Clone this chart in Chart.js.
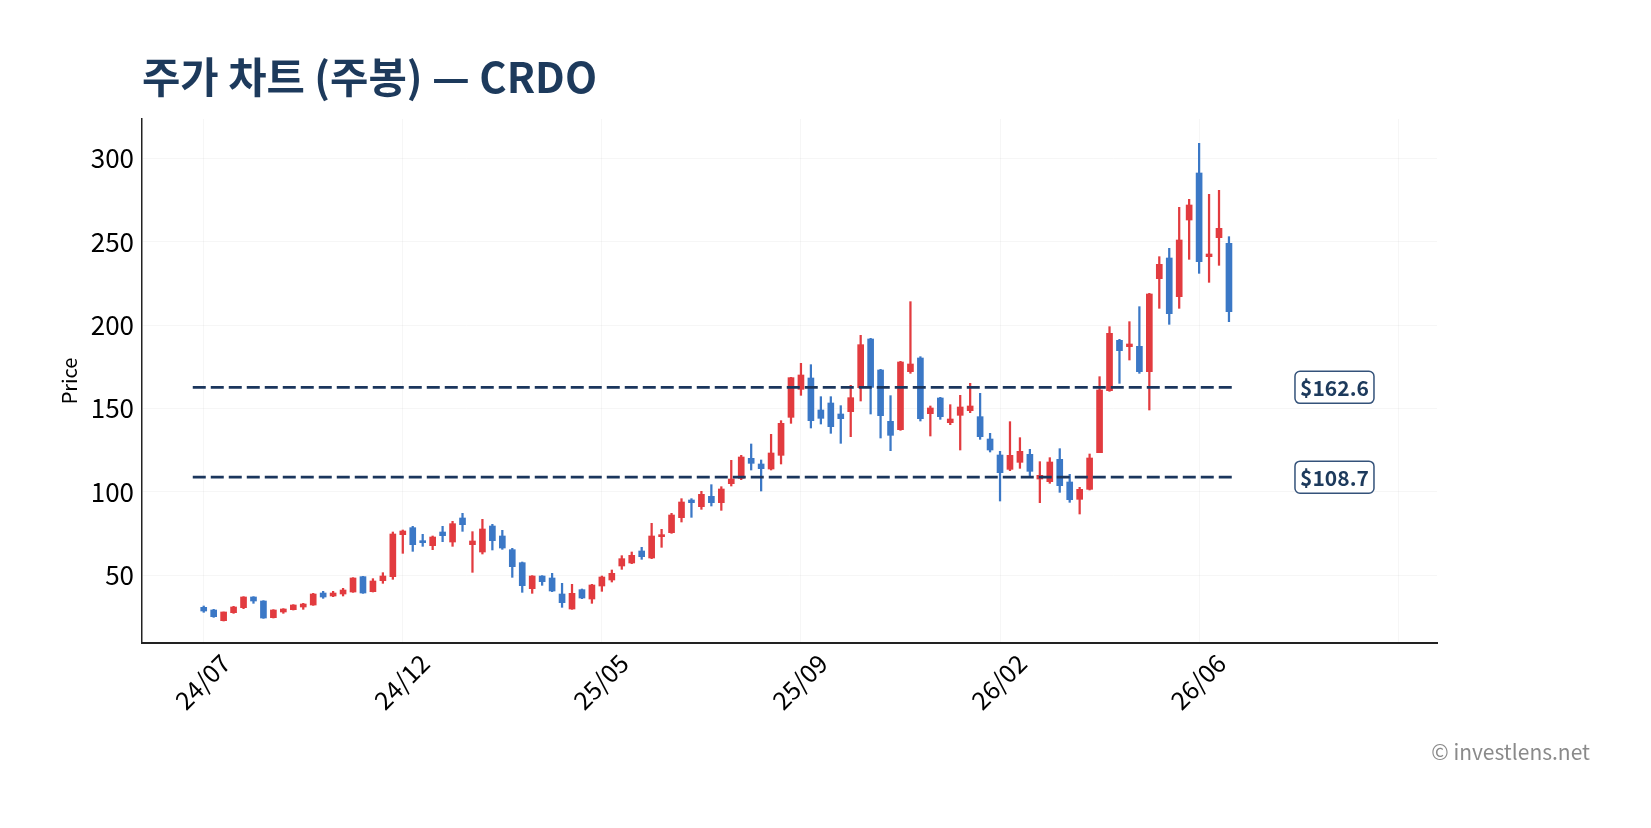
<!DOCTYPE html>
<html>
<head>
<meta charset="utf-8">
<script src="https://cdn.jsdelivr.net/npm/chart.js@4.4.1/dist/chart.umd.min.js"></script>
<style>
  body { margin: 0; background: #fff; }
  #wrap { position: relative; width: 1651px; height: 828px; }
  #titulo { position: absolute; left: 142px; top: 55px; font: bold 41.7px "Noto Sans CJK KR"; line-height: 1; color: #1d3a5c; white-space: nowrap; }
  #credito { position: absolute; right: 61px; top: 741px; font: 21px "Noto Sans CJK KR"; line-height: 1; color: #8a8a8a; }
</style>
</head>
<body>
<div id="wrap">
  <canvas id="grafico" width="1651" height="828"></canvas>
  <div id="titulo">주가 차트 (주봉) — CRDO</div>
  <div id="credito">© investlens.net</div>
</div>
<script>
// weekly candles, index 0 = first week of 24/07
const opens  = [30.6,29,22.6,27.4,30.4,36.8,34.4,24.4,27.8,29.2,30.8,32,39.2,37.4,38.6,39.8,49,40,46.6,49,
                74.2,78.4,70,67.6,75.8,69.8,84.2,68.2,63.8,79.4,73.4,65.2,57.4,41.8,49.4,48.2,38.6,29.6,41.2,35.6,
                43.4,47,55.4,57.2,64.4,60.2,73,75.4,84.4,95,91,97.2,93.4,104.8,108,120,116.6,113.6,121.8,144.6,
                161.4,168.2,149,153.2,146.6,148,162.4,191.6,173,142.2,137.2,172,180.2,146.8,156.2,141.4,145.8,148.6,145,131.6,
                122,113.4,117.6,122.4,107.6,106,119.4,105.8,95.4,101.4,123.4,160.6,190.8,187,187.2,172,227.8,240.2,217,263,
                291.2,241,252.4,249];
const highs  = [31.4,29.4,27.8,31.2,37,37,34.6,29.2,29.8,32.2,33,39,40.2,40.2,42,48.4,49.2,47.8,51.4,75.8,
                77,79.2,74.4,73.4,79.2,82.2,87,76,83.4,80.4,76.8,66,57.8,49.6,49.6,51,45,44.4,41.6,44.4,
                49.4,53,61.6,63.8,66.6,81,77.4,87,95.8,95.8,100.2,104.2,103,118.8,121.8,128.6,119,134.4,142.6,168.6,
                177,176.2,157,157,151.6,163.8,193.8,192,173.4,157.6,178.2,214,181,151.4,156.6,152.2,157.8,165,159,135,
                124.2,142,132.4,125.4,118,120.4,125.8,110.4,102.6,122.6,169,199,191.4,202,211,219,241,246,270.6,275.4,
                309,278.4,280.8,253];
const lows   = [27.6,24.6,22.4,27,29.8,33,24,24.2,27,29,29.4,31.8,36,37,37.4,39.6,39,39.8,45,47.4,
                63,64.2,67.2,65.2,70,67.2,76.2,51.6,62.6,65,65.4,48.6,39.6,39,43.8,40,30.6,29.4,35.8,33,
                40.2,45.8,53.4,56.8,59.4,59.8,66.6,75,81.8,84.6,89.4,91.4,88.8,103.4,107.2,113,100.4,113,116.6,141,
                157.8,138.2,140.6,135,129,133,154.4,146.6,132.2,124.6,136.8,171,142.4,133.4,143.4,140.2,125,147.4,131.4,123.8,
                94.4,112.6,114,109,93.4,105,99.6,93.6,86.6,101,123.4,160.2,165,179,171,149,210,200.4,210,239.4,
                231,225.6,235.8,202];
const closes = [28.4,25,27.8,30.8,36.8,34.4,24.2,29,29.6,32,32.6,38.6,36.8,39.2,41,48.2,39.2,46.4,49.4,74.6,
                76.4,68.2,69.4,72.8,73.6,80.8,80.2,70.4,77.6,70.6,66.2,55,43.6,49.4,46,40.4,33.4,39,36.2,44,
                48.8,51,59.8,61.8,61,73.4,74.2,86,93.8,93.4,98.4,93.4,101.6,107.6,120.8,117,113.8,123.2,141,168.4,
                170,142.6,144,139,143.8,156.4,188.2,162.6,145.6,133.8,177.8,176.6,143.8,150.2,145,143.6,150.8,151.4,133,125,
                111.4,121.8,124.2,112.2,109.8,117.8,103.6,95.2,101.4,120.2,161,195,184.6,188.6,172,218.6,236.4,206.8,251,272,
                238,242.6,258,208];

const xTicks = [0, 20, 40, 60, 80, 100, 120];
const xTickLabels = ['24/07', '24/12', '25/05', '25/09', '26/02', '26/06', ''];
const yTicks = [50, 100, 150, 200, 250, 300];
const levels = [162.6, 108.7];

const UP = '#e23b3f', DOWN = '#3b78c6', NAVY = '#1b365d';
const FONT = '"Noto Sans CJK KR"';

const colors = opens.map((o, i) => closes[i] >= o ? UP : DOWN);

const levelDatasets = levels.map(v => ({
  type: 'line',
  data: [{ x: -1.1, y: v }, { x: 103.4, y: v }],
  borderColor: NAVY,
  borderWidth: 2.6,
  borderDash: [13, 5],
  pointRadius: 0,
  order: -1
}));

// price boxes on the right of the level lines
const levelLabels = {
  id: 'levelLabels',
  afterDatasetsDraw(chart) {
    const { ctx, scales } = chart;
    const cx = scales.x.getPixelForValue(113.6);
    ctx.save();
    levels.forEach(v => {
      const cy = scales.y.getPixelForValue(v);
      const w = 79, h = 32;
      ctx.beginPath();
      ctx.roundRect(cx - w / 2, cy - h / 2, w, h, 5);
      ctx.fillStyle = '#fff';
      ctx.fill();
      ctx.lineWidth = 1.5;
      ctx.strokeStyle = '#34527a';
      ctx.stroke();
      ctx.fillStyle = '#1d3a5c';
      ctx.font = 'bold 21px ' + FONT;
      ctx.textAlign = 'center';
      ctx.textBaseline = 'middle';
      ctx.fillText('$' + v.toFixed(1), cx, cy + 1);
    });
    ctx.restore();
  }
};

new Chart(document.getElementById('grafico'), {
  type: 'bar',
  data: {
    datasets: [
      {
        data: opens.map((o, i) => ({ x: i, y: [o, closes[i]] })),
        backgroundColor: colors,
        barThickness: 6,
        minBarLength: 2,
        grouped: false,
        order: 0
      },
      {
        data: lows.map((l, i) => ({ x: i, y: [l, highs[i]] })),
        backgroundColor: colors,
        barThickness: 1.6,
        grouped: false,
        order: 1
      },
      ...levelDatasets
    ]
  },
  options: {
    responsive: false,
    animation: false,
    layout: { padding: { top: 119, right: 214, bottom: 0, left: 0 } },
    plugins: {
      legend: { display: false },
      tooltip: { enabled: false }
    },
    scales: {
      x: {
        type: 'linear',
        offset: false,
        min: -6.2,
        max: 123.9,
        afterBuildTicks: axis => { axis.ticks = xTicks.map(v => ({ value: v })); },
        afterFit: axis => { axis.height = 185; },
        ticks: {
          autoSkip: false,
          minRotation: 45,
          maxRotation: 45,
          padding: 5,
          labelOffset: 22,
          color: '#000',
          font: { family: FONT, size: 25 },
          callback: v => xTickLabels[xTicks.indexOf(v)]
        },
        grid: { color: 'rgba(0,0,0,0.035)', drawTicks: false, offset: false },
        border: { color: '#222', width: 2 }
      },
      y: {
        min: 9.2,
        max: 323.6,
        afterBuildTicks: axis => { axis.ticks = yTicks.map(v => ({ value: v })); },
        afterFit: axis => { axis.width = 142; },
        ticks: {
          padding: 8,
          color: '#000',
          font: { family: FONT, size: 26 }
        },
        grid: { color: 'rgba(0,0,0,0.035)', drawTicks: false },
        border: { color: '#222', width: 1.5 },
        title: {
          display: true,
          text: 'Price',
          color: '#000',
          font: { family: FONT, size: 20 },
          padding: { top: 57, bottom: 0 }
        }
      }
    }
  },
  plugins: [levelLabels]
});
</script>
</body>
</html>
